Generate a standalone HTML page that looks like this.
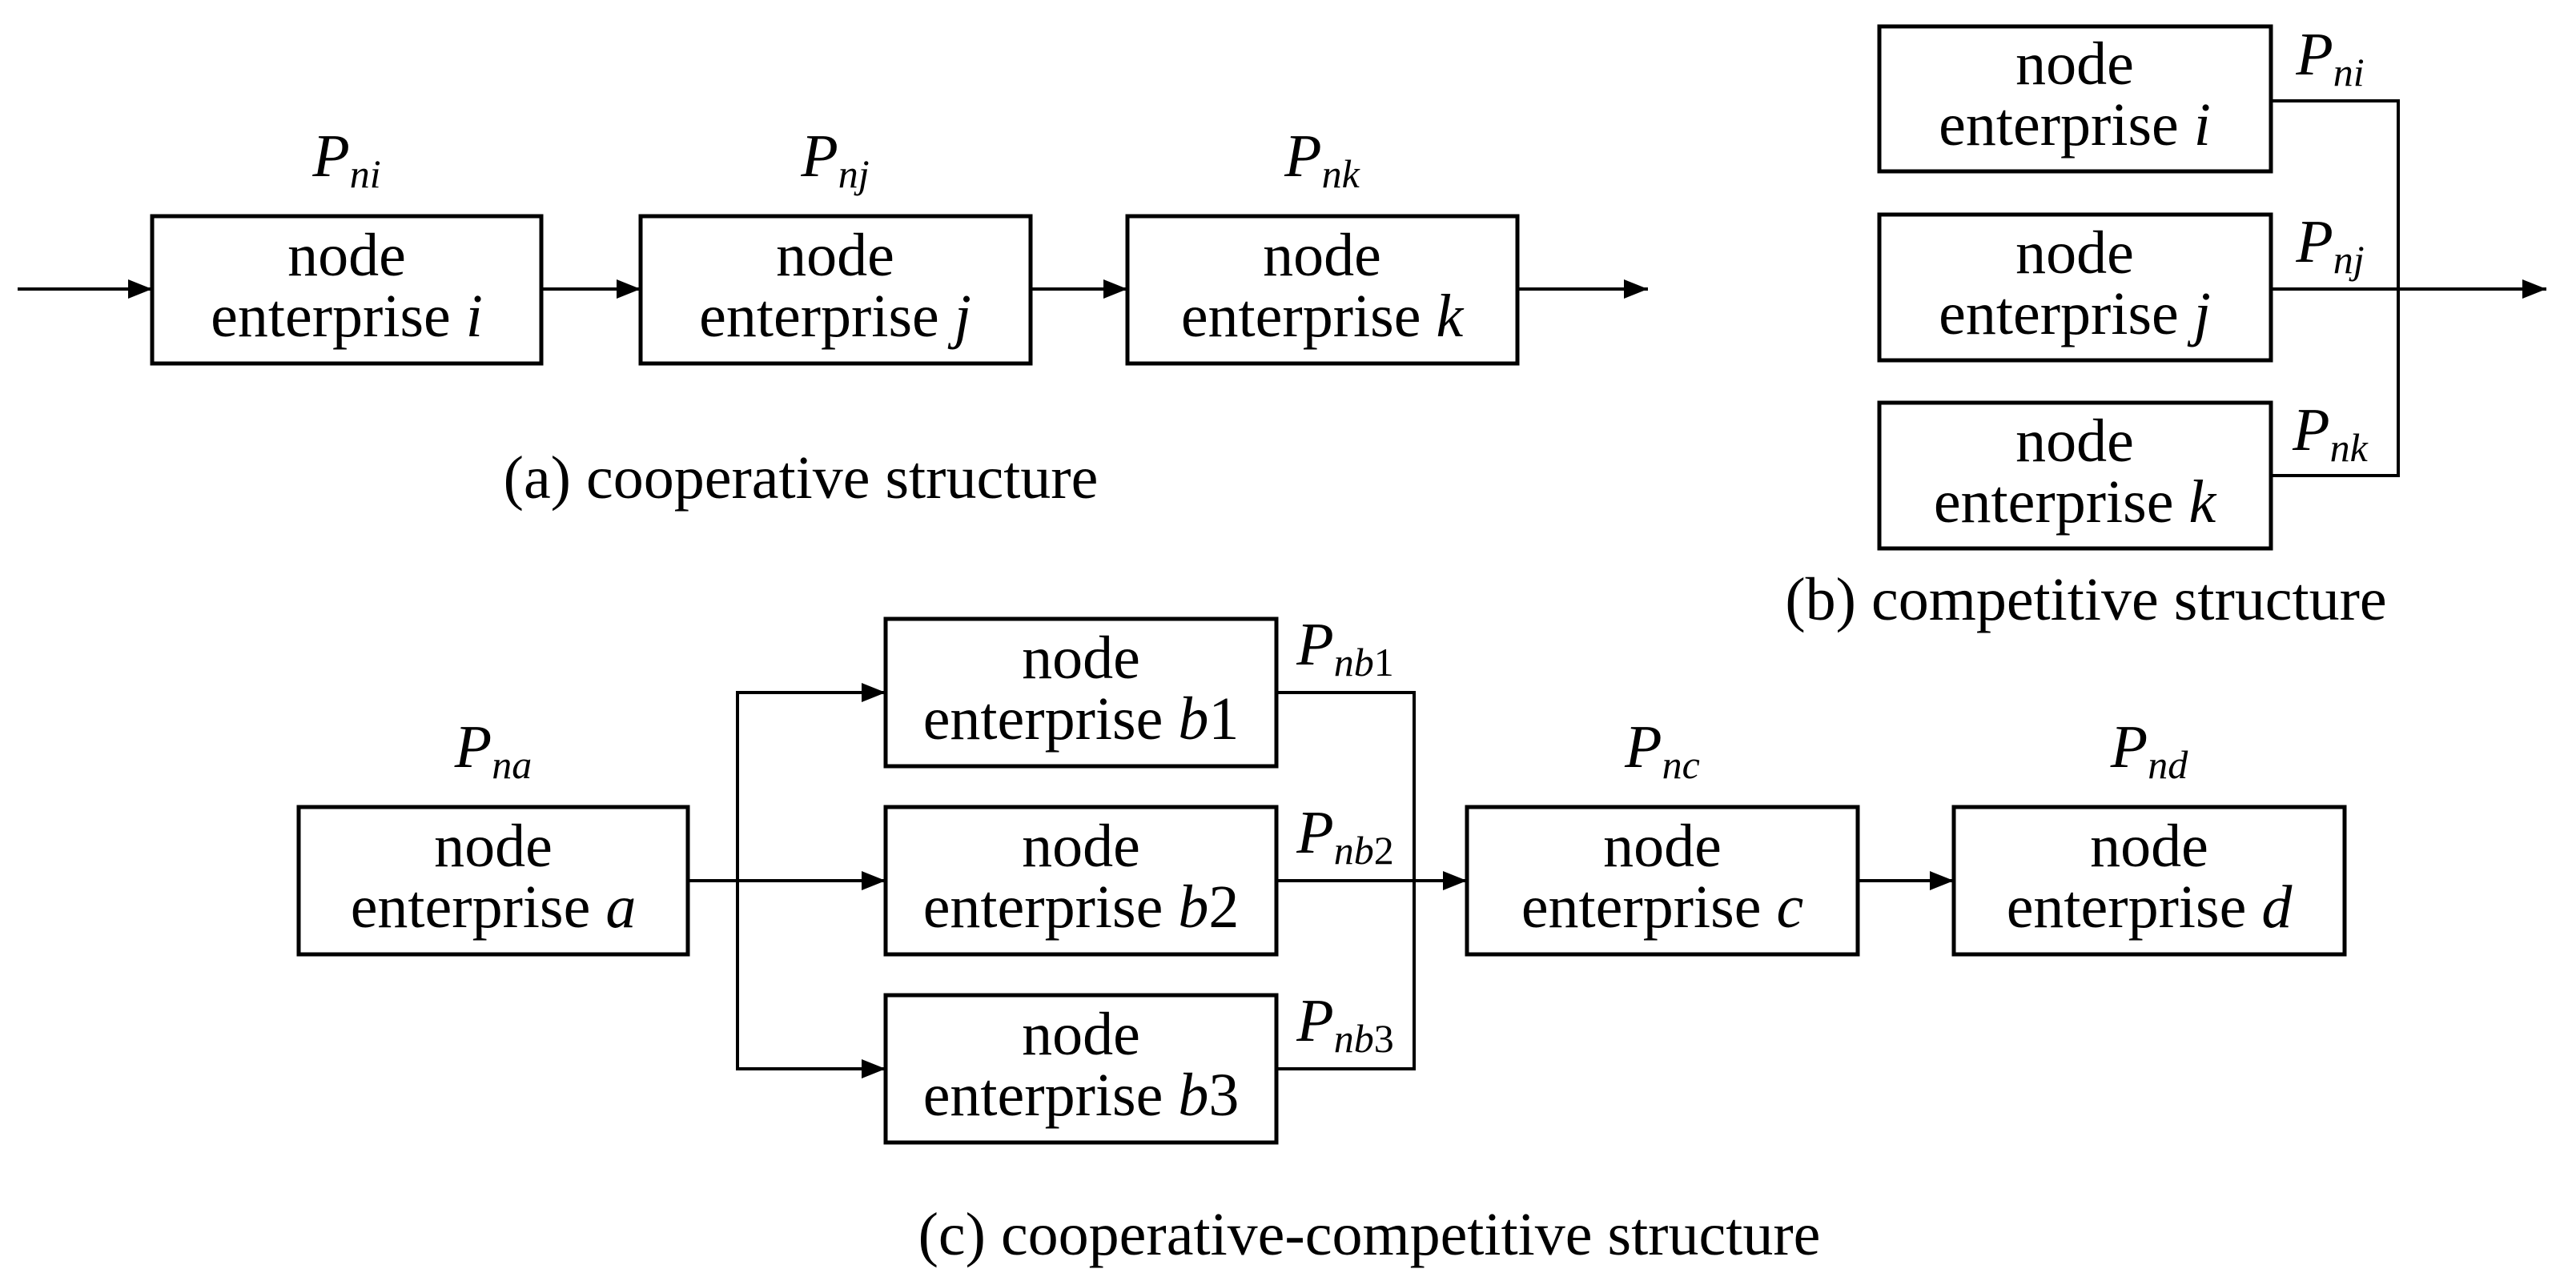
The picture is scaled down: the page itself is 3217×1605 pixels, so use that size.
<!DOCTYPE html>
<html><head><meta charset="utf-8"><style>
html,body{margin:0;padding:0;background:#fff;}
svg{display:block;}
text{font-family:"Liberation Serif",serif;fill:#000;}
.bx{fill:none;stroke:#000;stroke-width:5;}
.ln{fill:none;stroke:#000;stroke-width:4;}
.t{font-size:76px;text-anchor:middle;}
.p{font-size:76px;font-style:italic;text-anchor:middle;}
.s{font-size:50px;font-style:italic;}
.cap{font-size:76px;text-anchor:middle;}
</style></head><body>
<svg width="3217" height="1605" viewBox="0 0 3217 1605" xmlns="http://www.w3.org/2000/svg">
<defs>
<marker id="ar" viewBox="0 0 30 24" refX="30" refY="12" markerWidth="30" markerHeight="24" markerUnits="userSpaceOnUse" orient="auto"><path d="M0,0 L30,12 L0,24 z" fill="#000"/></marker></defs>

<!-- (a) -->
<rect class="bx" x="190" y="270" width="486" height="184"/>
<rect class="bx" x="800" y="270" width="487" height="184"/>
<rect class="bx" x="1408" y="270" width="487" height="184"/>
<line class="ln" x1="22" y1="361" x2="190" y2="361" marker-end="url(#ar)"/>
<line class="ln" x1="676" y1="361" x2="800" y2="361" marker-end="url(#ar)"/>
<line class="ln" x1="1287" y1="361" x2="1408" y2="361" marker-end="url(#ar)"/>
<line class="ln" x1="1895" y1="361" x2="2058" y2="361" marker-end="url(#ar)"/>
<text class="t" x="433" y="344">node</text><text class="t" x="433" y="420">enterprise <tspan font-style="italic">i</tspan></text>
<text class="t" x="1043" y="344">node</text><text class="t" x="1043" y="420">enterprise <tspan font-style="italic">j</tspan></text>
<text class="t" x="1651" y="344">node</text><text class="t" x="1651" y="420">enterprise <tspan font-style="italic">k</tspan></text>
<text class="p" x="433" y="220">P<tspan class="s" dy="14">ni</tspan></text>
<text class="p" x="1043" y="220">P<tspan class="s" dy="14">nj</tspan></text>
<text class="p" x="1651" y="220">P<tspan class="s" dy="14">nk</tspan></text>
<text class="cap" x="1000" y="622">(a) cooperative structure</text>

<!-- (b) -->
<rect class="bx" x="2347" y="33" width="489" height="181"/>
<rect class="bx" x="2347" y="268" width="489" height="182"/>
<rect class="bx" x="2347" y="503" width="489" height="182"/>
<polyline class="ln" points="2836,126 2995,126 2995,594 2836,594"/>
<line class="ln" x1="2836" y1="361" x2="3180" y2="361" marker-end="url(#ar)"/>
<text class="t" x="2591" y="105">node</text><text class="t" x="2591" y="181">enterprise <tspan font-style="italic">i</tspan></text>
<text class="t" x="2591" y="341">node</text><text class="t" x="2591" y="417">enterprise <tspan font-style="italic">j</tspan></text>
<text class="t" x="2591" y="576">node</text><text class="t" x="2591" y="652">enterprise <tspan font-style="italic">k</tspan></text>
<text class="p" x="2910" y="93">P<tspan class="s" dy="14">ni</tspan></text>
<text class="p" x="2910" y="327">P<tspan class="s" dy="14">nj</tspan></text>
<text class="p" x="2910" y="562">P<tspan class="s" dy="14">nk</tspan></text>
<text class="cap" x="2605" y="774">(b) competitive structure</text>

<!-- (c) -->
<rect class="bx" x="373" y="1008" width="486" height="184"/>
<rect class="bx" x="1106" y="773" width="488" height="184"/>
<rect class="bx" x="1106" y="1008" width="488" height="184"/>
<rect class="bx" x="1106" y="1243" width="488" height="184"/>
<rect class="bx" x="1832" y="1008" width="488" height="184"/>
<rect class="bx" x="2440" y="1008" width="488" height="184"/>
<line class="ln" x1="859" y1="1100" x2="1106" y2="1100" marker-end="url(#ar)"/>
<polyline class="ln" points="1106,865 921,865 921,1335 1106,1335"/>
<line class="ln" x1="1080" y1="865" x2="1106" y2="865" marker-end="url(#ar)"/>
<line class="ln" x1="1080" y1="1335" x2="1106" y2="1335" marker-end="url(#ar)"/>
<polyline class="ln" points="1594,865 1766,865 1766,1335 1594,1335"/>
<line class="ln" x1="1594" y1="1100" x2="1832" y2="1100" marker-end="url(#ar)"/>
<line class="ln" x1="2320" y1="1100" x2="2440" y2="1100" marker-end="url(#ar)"/>
<text class="t" x="616" y="1082">node</text><text class="t" x="616" y="1158">enterprise <tspan font-style="italic">a</tspan></text>
<text class="t" x="1350" y="847">node</text><text class="t" x="1350" y="923">enterprise <tspan font-style="italic">b</tspan>1</text>
<text class="t" x="1350" y="1082">node</text><text class="t" x="1350" y="1158">enterprise <tspan font-style="italic">b</tspan>2</text>
<text class="t" x="1350" y="1317">node</text><text class="t" x="1350" y="1393">enterprise <tspan font-style="italic">b</tspan>3</text>
<text class="t" x="2076" y="1082">node</text><text class="t" x="2076" y="1158">enterprise <tspan font-style="italic">c</tspan></text>
<text class="t" x="2684" y="1082">node</text><text class="t" x="2684" y="1158">enterprise <tspan font-style="italic">d</tspan></text>
<text class="p" x="616" y="958">P<tspan class="s" dy="14">na</tspan></text>
<text class="p" x="1680" y="830">P<tspan class="s" dy="14">nb</tspan><tspan font-size="50" font-style="normal">1</tspan></text>
<text class="p" x="1680" y="1065">P<tspan class="s" dy="14">nb</tspan><tspan font-size="50" font-style="normal">2</tspan></text>
<text class="p" x="1680" y="1300">P<tspan class="s" dy="14">nb</tspan><tspan font-size="50" font-style="normal">3</tspan></text>
<text class="p" x="2076" y="958">P<tspan class="s" dy="14">nc</tspan></text>
<text class="p" x="2684" y="958">P<tspan class="s" dy="14">nd</tspan></text>
<text class="cap" x="1710" y="1567">(c) cooperative-competitive structure</text>
</svg>
</body></html>
